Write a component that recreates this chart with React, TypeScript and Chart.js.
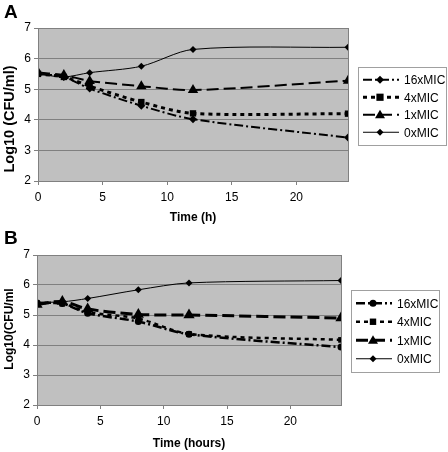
import React, { useEffect, useRef } from "react";
import { Chart, registerables } from "chart.js";

Chart.register(...registerables);

const TIMES = [0, 2, 4, 8, 12, 24];
const SERIES_NAMES = ["16xMIC", "4xMIC", "1xMIC", "0xMIC"];
const Y_TICKS = [2, 3, 4, 5, 6, 7];
const X_TICKS = [0, 5, 10, 15, 20];

const A_16 = [5.5, 5.4, 5.02, 4.46, 4.02, 3.42];
const A_4 = [5.5, 5.4, 5.1, 4.58, 4.21, 4.2];
const A_1 = [5.55, 5.46, 5.27, 5.1, 4.97, 5.28];
const A_0 = [5.5, 5.4, 5.54, 5.75, 6.3, 6.37];

const B_16 = [5.4, 5.38, 5.06, 4.78, 4.36, 3.93];
const B_4 = [5.4, 5.38, 5.1, 4.88, 4.37, 4.17];
const B_1 = [5.35, 5.45, 5.2, 5.02, 5.0, 4.9];
const B_0 = [5.42, 5.44, 5.55, 5.84, 6.07, 6.15];

type Style = {
  dash: number[];
  width: number;
  point: string;
  radius: number;
};

const FONT = "'Liberation Sans', Arial, sans-serif";

const panelPlugin = (
  letter: string,
  legendTop: number,
  rowGap: number,
  styles: Style[],
  yTitle: string,
  yTitleSize: number,
  yTitleCenter: number
) => ({
  id: "panel" + letter,
  beforeDraw(chart: any) {
    const { ctx, chartArea: a } = chart;
    ctx.save();
    ctx.fillStyle = "#c0c0c0";
    ctx.fillRect(a.left, a.top, a.right - a.left, a.bottom - a.top);
    ctx.restore();
  },
  afterDraw(chart: any) {
    const { ctx, chartArea: a } = chart;
    ctx.save();
    ctx.strokeStyle = "#808080";
    ctx.lineWidth = 1;
    ctx.strokeRect(a.left + 0.5, a.top + 0.5, a.right - a.left, a.bottom - a.top);
    ctx.fillStyle = "#000";
    ctx.font = "bold 19px " + FONT;
    ctx.textBaseline = "top";
    ctx.textAlign = "left";
    ctx.fillText(letter, 4, 3);
    // y axis title
    ctx.save();
    ctx.translate(10, yTitleCenter);
    ctx.rotate(-Math.PI / 2);
    ctx.font = "bold " + yTitleSize + "px " + FONT;
    ctx.textAlign = "center";
    ctx.textBaseline = "middle";
    ctx.fillText(yTitle, 0, 0);
    ctx.restore();
    // legend
    const bx = a.right + 10;
    const bw = 88;
    const bh = rowGap * 4 + 8;
    ctx.fillStyle = "#fff";
    ctx.fillRect(bx, legendTop, bw, bh);
    ctx.strokeStyle = "#a0a0a0";
    ctx.strokeRect(bx + 0.5, legendTop + 0.5, bw, bh);
    ctx.font = "12px " + FONT;
    ctx.textAlign = "left";
    ctx.textBaseline = "middle";
    chart.data.datasets.forEach((ds: any, i: number) => {
      const st = styles[i];
      const y = legendTop + 4 + rowGap * (i + 0.5);
      ctx.strokeStyle = "#000";
      ctx.lineWidth = st.width;
      ctx.setLineDash(st.dash);
      ctx.beginPath();
      ctx.moveTo(bx + 5, y);
      ctx.lineTo(bx + 41, y);
      ctx.stroke();
      ctx.setLineDash([]);
      const cx = bx + 22;
      const r = Math.min(st.radius, 5);
      ctx.fillStyle = "#000";
      ctx.beginPath();
      if (st.point === "rectRot") {
        ctx.moveTo(cx, y - r);
        ctx.lineTo(cx + r, y);
        ctx.lineTo(cx, y + r);
        ctx.lineTo(cx - r, y);
        ctx.closePath();
      } else if (st.point === "rect") {
        ctx.rect(cx - r * 0.8, y - r * 0.8, r * 1.6, r * 1.6);
      } else if (st.point === "triangle") {
        ctx.moveTo(cx, y - r);
        ctx.lineTo(cx + r, y + r * 0.7);
        ctx.lineTo(cx - r, y + r * 0.7);
        ctx.closePath();
      } else {
        ctx.arc(cx, y, r, 0, Math.PI * 2);
      }
      ctx.fill();
      ctx.fillStyle = "#000";
      ctx.fillText(ds.label, bx + 46, y + 1);
    });
    ctx.restore();
  },
});

function Panel(props: {
  letter: string;
  series: number[][];
  styles: Style[];
  xTitle: string;
  yTitle: string;
  yTitleSize: number;
  yTitleCenter: number;
  legendTop: number;
  rowGap: number;
  padRight: number;
  padTop: number;
  xHeight: number;
  yWidth: number;
}) {
  const ref = useRef<HTMLCanvasElement | null>(null);
  useEffect(() => {
    if (!ref.current) return;
    const chart = new Chart(ref.current, {
      type: "line",
      data: {
        datasets: props.series.map((vals, i) => {
          const st = props.styles[i];
          return {
            label: SERIES_NAMES[i],
            data: TIMES.map((t, j) => ({ x: t, y: vals[j] })),
            borderColor: "#000",
            backgroundColor: "#000",
            borderWidth: st.width,
            borderDash: st.dash,
            pointStyle: st.point as any,
            pointRadius: st.radius,
            pointBorderWidth: 0,
            pointBackgroundColor: "#000",
            tension: 0.3,
            fill: false,
          };
        }),
      },
      options: {
        animation: false,
        responsive: false,
        maintainAspectRatio: false,
        layout: { padding: { top: props.padTop, right: props.padRight, left: 0, bottom: 0 } },
        plugins: {
          legend: { display: false },
          tooltip: { enabled: false },
          title: { display: false },
        },
        scales: {
          x: {
            type: "linear",
            min: 0,
            max: 24,
            afterBuildTicks: (s: any) => {
              s.ticks = X_TICKS.map((v) => ({ value: v }));
            },
            afterFit: (s: any) => {
              s.height = props.xHeight;
            },
            ticks: { color: "#000", font: { family: FONT, size: 12 }, padding: 5, maxRotation: 0 },
            grid: { display: true, drawOnChartArea: false, drawTicks: true, tickLength: 4, color: "#808080" },
            border: { display: true, color: "#808080" },
            title: { display: true, text: props.xTitle, color: "#000", font: { family: FONT, size: 12, weight: "bold" }, padding: { top: 4, bottom: 1 } },
          },
          y: {
            type: "linear",
            min: 2,
            max: 7,
            afterBuildTicks: (s: any) => {
              s.ticks = Y_TICKS.map((v) => ({ value: v }));
            },
            afterFit: (s: any) => {
              s.width = props.yWidth;
            },
            ticks: { color: "#000", font: { family: FONT, size: 12 }, padding: 3 },
            grid: { display: true, drawTicks: true, tickLength: 4, color: "#808080", lineWidth: 1 },
            border: { display: true, color: "#808080" },
            title: { display: false, text: props.yTitle },
          },
        },
      },
      plugins: [
        panelPlugin(props.letter, props.legendTop, props.rowGap, props.styles, props.yTitle, props.yTitleSize, props.yTitleCenter),
      ],
    } as any);
    return () => chart.destroy();
  }, []);
  return <canvas ref={ref} width={448} height={226} style={{ display: "block", width: 448, height: 226 }} />;
}

const STYLES_A: Style[] = [
  { dash: [9, 3, 2, 3], width: 2, point: "rectRot", radius: 4 },
  { dash: [4, 4], width: 3, point: "rect", radius: 4.5 },
  { dash: [12, 5], width: 2, point: "triangle", radius: 6 },
  { dash: [], width: 1, point: "rectRot", radius: 3.5 },
];

const STYLES_B: Style[] = [
  { dash: [9, 3, 2, 3], width: 2.5, point: "circle", radius: 3.5 },
  { dash: [4, 4], width: 2.5, point: "rect", radius: 4 },
  { dash: [12, 5], width: 3, point: "triangle", radius: 6.5 },
  { dash: [], width: 1, point: "rectRot", radius: 3.5 },
];

export default function App() {
  return (
    <div style={{ position: "absolute", left: 0, top: 0, width: 448, height: 452, background: "#fff" }}>
      <Panel
        letter="A"
        series={[A_16, A_4, A_1, A_0]}
        styles={STYLES_A}
        xTitle="Time (h)"
        yTitle="Log10 (CFU/ml)"
        yTitleSize={14.5}
        yTitleCenter={119}
        legendTop={67}
        rowGap={17.5}
        padRight={100}
        padTop={28}
        xHeight={45}
        yWidth={38}
      />
      <Panel
        letter="B"
        series={[B_16, B_4, B_1, B_0]}
        styles={STYLES_B}
        xTitle="Time (hours)"
        yTitle="Log10(CFU/ml"
        yTitleSize={12}
        yTitleCenter={103}
        legendTop={64}
        rowGap={18.5}
        padRight={107}
        padTop={29}
        xHeight={47}
        yWidth={37}
      />
    </div>
  );
}
